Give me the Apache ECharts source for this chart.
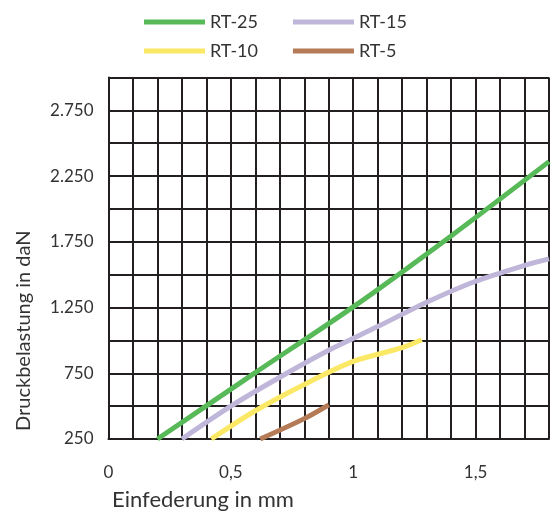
<!DOCTYPE html>
<html>
<head>
<meta charset="utf-8">
<script src="https://cdn.jsdelivr.net/npm/echarts@6/dist/echarts.min.js"></script>
<style>
html, body { margin: 0; padding: 0; background: #fff; }
#main { width: 552px; height: 515px; }
</style>
</head>
<body>
<div id="main"></div>
<script>
var font = 'Lato';
var textColor = '#333333';
var gridColor = '#231f20';

// Einfederung (mm) / Druckbelastung (daN)
var rt25 = [[0.2, 250], [0.6, 755], [1.0, 1255], [1.4, 1795], [1.8, 2360]];
var rt15 = [[0.3, 250], [0.5, 500], [0.7, 720], [0.9, 925], [1.1, 1105], [1.3, 1290], [1.5, 1450], [1.7, 1570], [1.8, 1620]];
var rt10 = [[0.42, 250], [0.6, 465], [0.8, 665], [1.0, 840], [1.2, 945], [1.28, 1005]];
var rt5 = [[0.62, 250], [0.8, 405], [0.9, 510]];

var seriesNames = ['RT-25', 'RT-15', 'RT-10', 'RT-5'];
var colors = ['#58b958', '#bfb6d9', '#fbe865', '#b57a56'];
var xLabels = [0, 0.5, 1, 1.5];
var yLabels = [250, 750, 1250, 1750, 2250, 2750];

function fmtNum(v) {
	return String(v).replace(/\B(?=(\d{3})+(?!\d))/g, '.');
}

var myChart = echarts.init(document.getElementById('main'));
var legendBase = {
	icon: 'rect',
	itemWidth: 61,
	itemHeight: 5,
	itemGap: 35,
	left: 139,
	textStyle: { color: textColor, fontFamily: font, fontSize: 18 }
};
option = {
	animation: false,
	color: colors,
	legend: [
		Object.assign({}, legendBase, { top: 8, data: [seriesNames[0], seriesNames[1]] }),
		Object.assign({}, legendBase, { top: 37, data: [seriesNames[2], seriesNames[3]] })
	],
	grid: { left: 108.5, right: 0, top: 77.5, bottom: 76, containLabel: false },
	graphic: [{
		type: 'text',
		left: 112,
		top: 489,
		style: { text: 'Einfederung in mm', fill: textColor, font: '22px ' + font }
	}, {
		type: 'text',
		x: 14,
		y: 431,
		rotation: Math.PI / 2,
		style: { text: 'Druckbelastung in daN', fill: textColor, font: '20px ' + font }
	}],
	xAxis: {
		type: 'value',
		min: 0,
		max: 1.8,
		interval: 0.1,
		axisLine: { show: true, lineStyle: { color: gridColor, width: 2 } },
		axisTick: { show: false },
		axisLabel: {
			margin: 25,
			color: textColor,
			fontFamily: font,
			fontSize: 17,
			formatter: function (v) {
				for (var i = 0; i < xLabels.length; i++) {
					if (Math.abs(v - xLabels[i]) < 1e-6) return String(xLabels[i]).replace('.', ',');
				}
				return '';
			}
		},
		splitLine: { show: true, lineStyle: { color: gridColor, width: 2 } }
	},
	yAxis: {
		type: 'value',
		min: 250,
		max: 3000,
		interval: 250,
		axisLine: { show: true, lineStyle: { color: gridColor, width: 2 } },
		axisTick: { show: false },
		axisLabel: {
			margin: 15,
			color: textColor,
			fontFamily: font,
			fontSize: 17,
			formatter: function (v) {
				return yLabels.indexOf(v) >= 0 ? fmtNum(v) : '';
			}
		},
		splitLine: { show: true, lineStyle: { color: gridColor, width: 2 } }
	},
	series: [
		{ name: seriesNames[0], type: 'line', data: rt25, smooth: 0.3, symbol: 'none', lineStyle: { width: 5 } },
		{ name: seriesNames[1], type: 'line', data: rt15, smooth: 0.3, symbol: 'none', lineStyle: { width: 5 } },
		{ name: seriesNames[2], type: 'line', data: rt10, smooth: 0.3, symbol: 'none', lineStyle: { width: 5 } },
		{ name: seriesNames[3], type: 'line', data: rt5, smooth: 0.3, symbol: 'none', lineStyle: { width: 5 } }
	]
};

myChart.setOption(option);
</script>
</body>
</html>
